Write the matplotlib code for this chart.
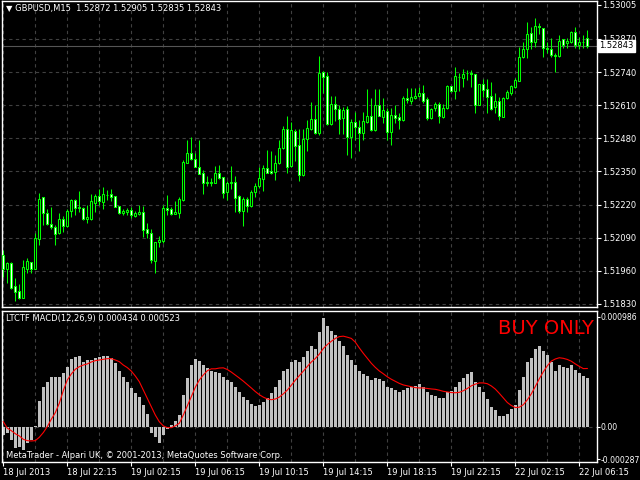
import matplotlib
matplotlib.use("Agg")
import matplotlib.pyplot as plt
import numpy as np

# GBPUSD M15 candles, 18 Jul 18:15 .. 22 Jul 06:45
opens = [1.52022, 1.51967, 1.51991, 1.51901, 1.51881, 1.51854, 1.51967, 1.51995, 1.51967, 1.52085,
         1.52250, 1.52187, 1.52144, 1.52132, 1.52109, 1.52164, 1.52136, 1.52195, 1.52238, 1.52211,
         1.52207, 1.52164, 1.52164, 1.52226, 1.52254, 1.52230, 1.52258, 1.52262, 1.52254, 1.52215,
         1.52187, 1.52191, 1.52199, 1.52175, 1.52183, 1.52191, 1.52124, 1.52109, 1.51999, 1.52073,
         1.52077, 1.52207, 1.52203, 1.52183, 1.52187, 1.52238, 1.52383, 1.52423, 1.52399, 1.52368,
         1.52344, 1.52309, 1.52305, 1.52305, 1.52344, 1.52328, 1.52270, 1.52305, 1.52309, 1.52254,
         1.52195, 1.52242, 1.52215, 1.52270, 1.52293, 1.52321, 1.52364, 1.52352, 1.52348, 1.52383,
         1.52442, 1.52517, 1.52372, 1.52509, 1.52454, 1.52336, 1.52478, 1.52517, 1.52556, 1.52501,
         1.52740, 1.52725, 1.52536, 1.52615, 1.52595, 1.52560, 1.52595, 1.52485, 1.52544, 1.52525,
         1.52501, 1.52544, 1.52568, 1.52513, 1.52611, 1.52564, 1.52587, 1.52505, 1.52572, 1.52564,
         1.52552, 1.52638, 1.52627, 1.52638, 1.52646, 1.52658, 1.52635, 1.52560, 1.52599, 1.52615,
         1.52564, 1.52599, 1.52686, 1.52666, 1.52721, 1.52717, 1.52737, 1.52737, 1.52733, 1.52611,
         1.52693, 1.52674, 1.52646, 1.52603, 1.52627, 1.52564, 1.52638, 1.52658, 1.52682, 1.52705,
         1.52799, 1.52831, 1.52894, 1.52858, 1.52921, 1.52913, 1.52835, 1.52831, 1.52807, 1.52803,
         1.52870, 1.52854, 1.52858, 1.52897, 1.52846, 1.52858, 1.52872]
highs = [1.52042, 1.51995, 1.51995, 1.51932, 1.51908, 1.52003, 1.52011, 1.51995, 1.52109, 1.52266,
         1.52250, 1.52203, 1.52211, 1.52140, 1.52187, 1.52175, 1.52203, 1.52242, 1.52242, 1.52273,
         1.52211, 1.52218, 1.52262, 1.52262, 1.52281, 1.52289, 1.52277, 1.52281, 1.52254, 1.52215,
         1.52203, 1.52207, 1.52211, 1.52195, 1.52218, 1.52215, 1.52148, 1.52124, 1.52073, 1.52097,
         1.52218, 1.52258, 1.52211, 1.52234, 1.52250, 1.52395, 1.52474, 1.52485, 1.52423, 1.52474,
         1.52356, 1.52332, 1.52324, 1.52372, 1.52376, 1.52328, 1.52313, 1.52372, 1.52332, 1.52258,
         1.52250, 1.52250, 1.52277, 1.52305, 1.52368, 1.52376, 1.52434, 1.52430, 1.52415, 1.52474,
         1.52529, 1.52568, 1.52544, 1.52517, 1.52517, 1.52517, 1.52552, 1.52623, 1.52611, 1.52803,
         1.52744, 1.52740, 1.52646, 1.52646, 1.52611, 1.52603, 1.52607, 1.52556, 1.52583, 1.52552,
         1.52583, 1.52674, 1.52638, 1.52674, 1.52674, 1.52638, 1.52599, 1.52599, 1.52611, 1.52580,
         1.52646, 1.52678, 1.52678, 1.52678, 1.52682, 1.52689, 1.52642, 1.52599, 1.52623, 1.52623,
         1.52615, 1.52689, 1.52686, 1.52760, 1.52737, 1.52752, 1.52748, 1.52748, 1.52733, 1.52693,
         1.52713, 1.52713, 1.52701, 1.52658, 1.52642, 1.52642, 1.52670, 1.52689, 1.52717, 1.52839,
         1.52858, 1.52937, 1.52917, 1.52952, 1.52933, 1.52913, 1.52858, 1.52874, 1.52815, 1.52886,
         1.52870, 1.52874, 1.52901, 1.52917, 1.52878, 1.52886, 1.52905]
lows = [1.51936, 1.51912, 1.51889, 1.51842, 1.51850, 1.51854, 1.51952, 1.51952, 1.51967, 1.52062,
        1.52140, 1.52140, 1.52124, 1.52062, 1.52105, 1.52113, 1.52132, 1.52171, 1.52179, 1.52191,
        1.52160, 1.52148, 1.52160, 1.52191, 1.52218, 1.52203, 1.52238, 1.52234, 1.52211, 1.52183,
        1.52179, 1.52179, 1.52168, 1.52171, 1.52179, 1.52093, 1.52089, 1.51991, 1.51952, 1.52054,
        1.52069, 1.52179, 1.52179, 1.52183, 1.52168, 1.52234, 1.52383, 1.52395, 1.52368, 1.52340,
        1.52262, 1.52293, 1.52293, 1.52305, 1.52321, 1.52246, 1.52238, 1.52281, 1.52191, 1.52187,
        1.52136, 1.52191, 1.52211, 1.52250, 1.52285, 1.52273, 1.52344, 1.52340, 1.52317, 1.52379,
        1.52438, 1.52344, 1.52368, 1.52391, 1.52313, 1.52332, 1.52430, 1.52513, 1.52497, 1.52493,
        1.52658, 1.52532, 1.52532, 1.52548, 1.52497, 1.52497, 1.52415, 1.52403, 1.52474, 1.52430,
        1.52474, 1.52540, 1.52509, 1.52509, 1.52568, 1.52540, 1.52474, 1.52454, 1.52540, 1.52517,
        1.52548, 1.52619, 1.52615, 1.52635, 1.52642, 1.52619, 1.52552, 1.52556, 1.52587, 1.52540,
        1.52560, 1.52595, 1.52662, 1.52635, 1.52666, 1.52682, 1.52709, 1.52682, 1.52580, 1.52611,
        1.52642, 1.52580, 1.52591, 1.52580, 1.52552, 1.52564, 1.52635, 1.52650, 1.52678, 1.52705,
        1.52795, 1.52795, 1.52831, 1.52839, 1.52890, 1.52799, 1.52815, 1.52799, 1.52740, 1.52799,
        1.52835, 1.52835, 1.52854, 1.52835, 1.52831, 1.52835, 1.52835]
closes = [1.51967, 1.51991, 1.51893, 1.51877, 1.51854, 1.51975, 1.51999, 1.51967, 1.52089, 1.52242,
          1.52187, 1.52144, 1.52132, 1.52105, 1.52164, 1.52136, 1.52195, 1.52238, 1.52207, 1.52207,
          1.52164, 1.52171, 1.52234, 1.52254, 1.52234, 1.52262, 1.52258, 1.52250, 1.52211, 1.52187,
          1.52195, 1.52199, 1.52179, 1.52187, 1.52191, 1.52120, 1.52109, 1.52003, 1.52073, 1.52081,
          1.52207, 1.52199, 1.52183, 1.52191, 1.52242, 1.52387, 1.52423, 1.52399, 1.52368, 1.52340,
          1.52305, 1.52305, 1.52309, 1.52344, 1.52324, 1.52266, 1.52305, 1.52309, 1.52246, 1.52195,
          1.52242, 1.52215, 1.52270, 1.52293, 1.52324, 1.52364, 1.52344, 1.52344, 1.52383, 1.52442,
          1.52517, 1.52368, 1.52513, 1.52450, 1.52336, 1.52478, 1.52521, 1.52556, 1.52501, 1.52737,
          1.52721, 1.52536, 1.52615, 1.52595, 1.52556, 1.52591, 1.52485, 1.52544, 1.52525, 1.52501,
          1.52548, 1.52568, 1.52513, 1.52611, 1.52568, 1.52591, 1.52505, 1.52572, 1.52560, 1.52552,
          1.52638, 1.52631, 1.52642, 1.52646, 1.52658, 1.52627, 1.52560, 1.52595, 1.52615, 1.52568,
          1.52599, 1.52686, 1.52666, 1.52725, 1.52721, 1.52733, 1.52737, 1.52733, 1.52611, 1.52693,
          1.52670, 1.52642, 1.52595, 1.52627, 1.52568, 1.52638, 1.52662, 1.52686, 1.52709, 1.52799,
          1.52831, 1.52890, 1.52858, 1.52921, 1.52917, 1.52835, 1.52831, 1.52807, 1.52803, 1.52862,
          1.52846, 1.52862, 1.52897, 1.52846, 1.52858, 1.52858, 1.52843]

# LTCTF MACD(12,26,9): histogram (main) and signal line
macd_main = [-0.000070, -0.000050, -0.000116, -0.000190, -0.000176, -0.000206, -0.000140, -0.000116,
             0.000010, 0.000235, 0.000355, 0.000405, 0.000444, 0.000444, 0.000450, 0.000485,
             0.000534, 0.000605, 0.000623, 0.000635, 0.000584, 0.000600, 0.000600, 0.000614,
             0.000623, 0.000635, 0.000635, 0.000614, 0.000575, 0.000503, 0.000444, 0.000405,
             0.000346, 0.000307, 0.000271, 0.000197, 0.000116, -0.000057, -0.000092, -0.000146,
             -0.000070, -0.000020, 0.000020, 0.000056, 0.000107, 0.000286, 0.000435, 0.000554,
             0.000605, 0.000593, 0.000554, 0.000525, 0.000503, 0.000494, 0.000480, 0.000450,
             0.000420, 0.000400, 0.000360, 0.000310, 0.000270, 0.000240, 0.000210, 0.000190,
             0.000200, 0.000220, 0.000260, 0.000300, 0.000360, 0.000420, 0.000500, 0.000520,
             0.000580, 0.000600, 0.000580, 0.000630, 0.000680, 0.000720, 0.000700, 0.000850,
             0.000970, 0.000900, 0.000860, 0.000820, 0.000770, 0.000720, 0.000640, 0.000600,
             0.000550, 0.000500, 0.000470, 0.000460, 0.000420, 0.000440, 0.000430, 0.000410,
             0.000360, 0.000350, 0.000330, 0.000310, 0.000330, 0.000350, 0.000360, 0.000370,
             0.000380, 0.000360, 0.000310, 0.000290, 0.000280, 0.000260, 0.000260, 0.000310,
             0.000320, 0.000360, 0.000400, 0.000440, 0.000470, 0.000490, 0.000400, 0.000360,
             0.000310, 0.000250, 0.000180, 0.000150, 0.000100, 0.000100, 0.000120, 0.000160,
             0.000200, 0.000330, 0.000450, 0.000580, 0.000620, 0.000700, 0.000720, 0.000680,
             0.000640, 0.000580, 0.000500, 0.000550, 0.000540, 0.000530, 0.000550, 0.000510,
             0.000480, 0.000460, 0.000434]
macd_signal = [0.000047, -0.000010, -0.000033, -0.000060, -0.000080, -0.000110, -0.000122, -0.000125,
               -0.000122, -0.000092, -0.000050, 0.000003, 0.000069, 0.000128, 0.000212, 0.000325,
               0.000420, 0.000474, 0.000516, 0.000539, 0.000554, 0.000564, 0.000581, 0.000593,
               0.000599, 0.000605, 0.000611, 0.000611, 0.000599, 0.000584, 0.000554, 0.000531,
               0.000500, 0.000456, 0.000405, 0.000331, 0.000257, 0.000181, 0.000107, 0.000047,
               0.000010, -0.000006, -0.000006, 0.000010, 0.000033, 0.000107, 0.000188, 0.000271,
               0.000355, 0.000420, 0.000465, 0.000503, 0.000520, 0.000520, 0.000527, 0.000529,
               0.000514, 0.000491, 0.000465, 0.000438, 0.000410, 0.000380, 0.000349, 0.000317,
               0.000289, 0.000267, 0.000251, 0.000244, 0.000250, 0.000267, 0.000296, 0.000330,
               0.000373, 0.000418, 0.000458, 0.000499, 0.000541, 0.000581, 0.000612, 0.000651,
               0.000701, 0.000737, 0.000766, 0.000792, 0.000808, 0.000812, 0.000803, 0.000792,
               0.000759, 0.000707, 0.000659, 0.000614, 0.000570, 0.000533, 0.000501, 0.000476,
               0.000449, 0.000427, 0.000408, 0.000390, 0.000376, 0.000368, 0.000359, 0.000352,
               0.000349, 0.000349, 0.000344, 0.000340, 0.000337, 0.000329, 0.000319, 0.000313,
               0.000308, 0.000306, 0.000310, 0.000324, 0.000344, 0.000368, 0.000383, 0.000394,
               0.000394, 0.000387, 0.000367, 0.000339, 0.000301, 0.000260, 0.000219, 0.000192,
               0.000174, 0.000177, 0.000199, 0.000243, 0.000296, 0.000362, 0.000431, 0.000493,
               0.000547, 0.000589, 0.000608, 0.000619, 0.000614, 0.000604, 0.000588, 0.000564,
               0.000542, 0.000522, 0.000523]

price_ticks = [1.51830, 1.51960, 1.52090, 1.52220, 1.52350, 1.52480, 1.52610, 1.52740, 1.52870]
price_max_label = 1.53005
bid = 1.52843
macd_labels = [0.000986, 0.0, -0.000287]
macd_label_text = ["0.000986", "0.00", "-0.000287"]
date_bars = [0, 16, 32, 48, 64, 80, 96, 112, 128, 144]
date_labels = ["18 Jul 2013", "18 Jul 22:15", "19 Jul 02:15", "19 Jul 06:15", "19 Jul 10:15",
               "19 Jul 14:15", "19 Jul 18:15", "19 Jul 22:15", "22 Jul 02:15", "22 Jul 06:15"]

W, H = 640, 480
LIME = "#00ff00"
GRID = "#404040"
FS = 6

plt.rcParams["font.family"] = ["DejaVu Sans"]
fig = plt.figure(figsize=(W / 100, H / 100), dpi=100, facecolor="black")


def fx(x):
    return x / W


def fy(y):
    return 1 - y / H


ax = fig.add_axes([fx(2), fy(307), 595 / W, 306 / H], facecolor="black")
axm = fig.add_axes([fx(2), fy(462), 595 / W, 151 / H], facecolor="black")

o = np.array(opens)
hi = np.array(highs)
lo = np.array(lows)
c = np.array(closes)
idx = np.arange(len(o))
xlim = (-0.325, -0.325 + 595 / 4)

for a in (ax, axm):
    a.set_xlim(*xlim)
    for s in a.spines.values():
        s.set_color("white")
        s.set_linewidth(1)
    for b in range(0, len(o) + 2, 8):
        a.axvline(b, color=GRID, lw=0.8, ls=(0, (3, 3)), zorder=0)

# price panel
for p in price_ticks:
    ax.axhline(p, color=GRID, lw=0.8, ls=(0, (3, 3)), zorder=0)
ax.axhline(bid, color="#555555", lw=0.8, zorder=1)

ax.vlines(idx, lo, hi, color=LIME, lw=0.75, zorder=2)
body_bottom = np.minimum(o, c)
body_h = np.maximum(np.abs(c - o), 0.000004)
fills = np.where(c >= o, "black", "white")
ax.bar(idx, body_h, 0.5, bottom=body_bottom, color=fills, edgecolor=LIME, lw=0.75, zorder=3)
ax.set_ylim(1.51818, 1.53019)

ax.yaxis.tick_right()
ax.set_yticks(price_ticks + [price_max_label])
ax.set_yticklabels([f"{p:.5f}" for p in price_ticks + [price_max_label]])
ax.tick_params(axis="y", colors="white", labelsize=FS, length=3, width=0.8, pad=1)
ax.set_xticks([])

ax.text(1.004, (bid - 1.51818) / (1.53019 - 1.51818), f"{bid:.5f}", transform=ax.transAxes,
        fontsize=FS, color="black", va="center", ha="left", zorder=10,
        bbox=dict(boxstyle="square,pad=0.15", fc="white", ec="white"))

fig.text(fx(6), fy(9), "\u25bc GBPUSD,M15  1.52872 1.52905 1.52835 1.52843",
         color="white", fontsize=FS, va="center", ha="left")

# MACD panel
axm.axhline(0, color=GRID, lw=0.8, ls=(0, (3, 3)), zorder=0)
axm.bar(idx, macd_main, 0.75, color="#c0c0c0", zorder=2)
axm.plot(idx, macd_signal, color="red", lw=0.8, zorder=3)
axm.set_ylim(-0.000313, 0.001037)
axm.yaxis.tick_right()
axm.set_yticks(macd_labels)
axm.set_yticklabels(macd_label_text)
axm.tick_params(axis="y", colors="white", labelsize=5.6, length=2, width=0.8, pad=0.5)
axm.set_xticks(date_bars)
axm.set_xticklabels(date_labels, ha="left")
axm.tick_params(axis="x", colors="white", labelsize=FS, length=3, width=0.8, pad=1.5)

fig.text(fx(6), fy(318), "LTCTF MACD(12,26,9) 0.000434 0.000523",
         color="white", fontsize=FS, va="center", ha="left")
fig.text(fx(594), fy(328), "BUY ONLY", color="red", fontsize=14, va="center", ha="right")
fig.text(fx(6), fy(455), "MetaTrader - Alpari UK, \u00a9 2001-2013, MetaQuotes Software Corp.",
         color="white", fontsize=FS, va="center", ha="left")

fig.savefig("out.png", dpi=100, facecolor="black")
